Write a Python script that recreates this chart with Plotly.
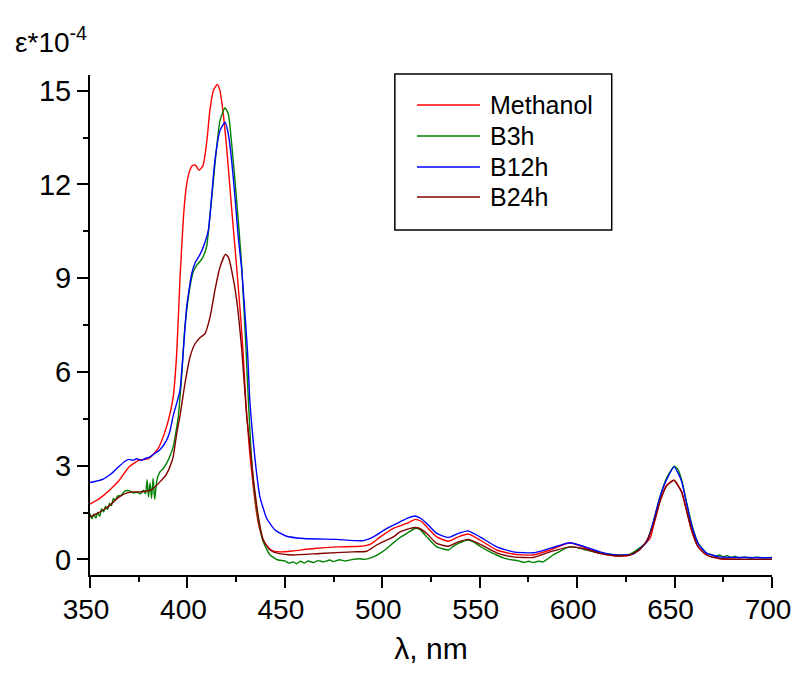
"""Absorption spectra: methanol vs. B-series samples."""

import plotly.graph_objects as go

FONT = "Liberation Sans, Arial, sans-serif"

METHANOL_WL = [
    350, 355, 360, 365, 370, 375, 380, 385, 388, 390, 392.7, 394.5, 396.2,
    398, 399.6, 401, 402.5, 404, 406, 408, 410, 411.5, 413.3, 415.3, 416.7,
    418.4, 420.1, 421.8, 423.5, 425.2, 427, 428.5, 430, 432, 433.8, 435.5,
    437.2, 439.8, 443, 447.5, 454, 465, 477, 489, 494, 499, 505.7, 512.5,
    517, 520, 522.8, 527.9, 533.9, 539, 544.1, 550.1, 558.7, 567, 577.5,
    586, 594.6, 598, 603, 611.7, 620.3, 627, 632.3, 637.4, 639.1, 642.5,
    645.9, 649.7, 653.6, 656.1, 658.7, 662.1, 666.4, 673, 685, 700,
]
METHANOL = [
    1.77, 1.95, 2.21, 2.53, 2.96, 3.17, 3.22, 3.55, 4.0, 4.4, 5.2, 6.6, 9.0,
    11.0, 12.0, 12.4, 12.6, 12.62, 12.45, 12.6, 13.4, 14.36, 15.0, 15.2, 15.0,
    14.25, 13.2, 11.9, 10.63, 9.4, 8.0, 6.7, 5.0, 3.4, 2.32, 1.48,
    0.94, 0.51, 0.30, 0.24, 0.27, 0.35, 0.40, 0.42, 0.49, 0.72, 0.99, 1.15,
    1.28, 1.22, 1.04, 0.72, 0.58, 0.72, 0.81, 0.62, 0.30, 0.17, 0.14,
    0.30, 0.51, 0.51, 0.40, 0.19, 0.11, 0.14, 0.35, 0.67, 1.05, 1.85,
    2.37, 2.53, 2.16, 1.58, 0.94, 0.40, 0.14, 0.03, 0.0, 0.0,
]

B3H_WL = [
    350, 351, 352, 353, 354, 355, 356, 357, 358, 359, 360, 361, 362, 363,
    364, 366, 368, 370, 372, 374, 376, 377.4, 378.5, 379.3, 380, 380.8,
    381.6, 382.4, 383.2, 384.3, 385.9, 387.5, 389.3, 391, 392.7, 393.6,
    395.3, 397, 398.7, 401.3, 403, 404.7, 407.3, 409.8, 411.5, 413.3, 415,
    416.7, 419.3, 421, 422.7, 424.4, 426.1, 427.9, 430, 431.2, 432.5, 433.8,
    436.4, 438.9, 442.4, 446.6, 450, 452, 454.3, 456, 458, 460, 462, 464.6,
    467, 470, 473, 475, 478, 481, 485, 488, 491, 495.4, 499, 502.3, 505.5,
    509.1, 513, 516.8, 519.4, 522.8, 527.9, 531, 533.9, 536, 539, 544.1,
    547, 550.1, 554, 558.7, 562, 565, 567.2, 570, 573, 575, 577.5, 580,
    582.6, 585, 587.7, 591, 594.6, 598, 601, 604.8, 611.7, 620.3, 627.1,
    635.7, 639.1, 642.5, 645.9, 649.8, 651.5, 653.6, 656.1, 658.7, 662.1,
    666.4, 669, 671, 673, 675, 677, 679, 681, 683, 686, 689, 692, 695, 700,
]
B3H = [
    1.47, 1.3, 1.45, 1.32, 1.5, 1.38, 1.62, 1.52, 1.7, 1.6, 1.8, 1.72, 1.95,
    1.88, 2.02, 2.05, 2.19, 2.2, 2.13, 2.15, 2.1, 2.21, 2.1, 2.55, 2.0, 2.45,
    1.95, 2.6, 1.92, 2.53, 2.8, 2.9, 3.07, 3.3, 3.6, 3.9,
    4.56, 5.84, 7.43, 8.71, 9.2, 9.41, 9.6, 9.99, 10.95, 12.12, 13.19,
    14.04, 14.45, 14.25, 13.3, 12.12, 10.84, 9.35, 6.8, 5.2, 3.6, 2.53,
    1.26, 0.56, 0.14, -0.02, -0.05, -0.12, -0.08, -0.14, -0.06, -0.12, -0.05,
    -0.1, -0.04, -0.08, -0.02, -0.07, -0.01, -0.05, 0.0, 0.02, 0.0, 0.08,
    0.2, 0.35, 0.52, 0.7, 0.85, 0.99, 0.95, 0.72, 0.40, 0.34, 0.30, 0.40,
    0.51, 0.62, 0.55, 0.42, 0.28, 0.14, 0.05, 0.0, -0.02, -0.05, -0.1, -0.06,
    -0.1, -0.06, -0.08, 0.02, 0.14, 0.25, 0.37, 0.40, 0.36, 0.30, 0.21, 0.14,
    0.17, 0.56, 1.2, 2.0, 2.6, 2.98, 2.9, 2.55, 1.85, 1.15, 0.52, 0.2, 0.15,
    0.1, 0.14, 0.08, 0.12, 0.06, 0.1, 0.05, 0.08, 0.04, 0.07, 0.05, 0.06,
]

B12H_WL = [
    350, 353, 356.8, 360, 362, 365, 368, 370, 372, 374, 376.5, 378, 380.8,
    383, 385.9, 389.3, 391, 392.7, 394.5, 396.2, 397.9, 399.6, 401, 402.2,
    404, 406.4, 408.1, 410.7, 412.4, 414.1, 416.7, 419.3, 421, 422.7, 424.4,
    426.1, 427.9, 430.8, 432.1, 434.7, 436, 437.2, 440.7, 445, 450.9, 459.5,
    476.6, 490.3, 495.4, 502.3, 509.1, 513, 516.8, 520, 522.8, 527.9, 533.9,
    539, 544.1, 550.1, 558.7, 567.2, 577.5, 586, 596.3, 603.1, 611.7, 620.3,
    628.8, 635.7, 639.1, 642.5, 645.9, 649.8, 653.6, 656.1, 658.7, 662.1,
    666.4, 673, 685, 700,
]
B12H = [
    2.46, 2.5, 2.57, 2.7, 2.8, 2.98, 3.14, 3.2, 3.17, 3.22, 3.17, 3.22, 3.28,
    3.38, 3.51, 3.81, 4.1, 4.6, 5.0, 5.41, 6.69, 8.07, 8.7, 9.14,
    9.5, 9.75, 9.99, 10.52, 11.59, 12.76, 13.72, 13.99, 13.61, 12.76, 11.59,
    10.31, 9.25, 6.69, 5.0, 3.2, 2.5, 2.0, 1.31, 0.94, 0.74, 0.67,
    0.64, 0.60, 0.72, 0.99, 1.2, 1.32, 1.39, 1.3, 1.15, 0.83, 0.70,
    0.83, 0.91, 0.72, 0.40, 0.24, 0.21, 0.35, 0.53, 0.42, 0.24, 0.14,
    0.17, 0.56, 1.2, 2.0, 2.55, 2.96, 2.5, 1.8, 1.1, 0.5,
    0.2, 0.08, 0.06, 0.05,
]

B24H_WL = [
    350, 353, 356.8, 360, 362, 365, 369, 372, 375.5, 378, 380.8, 383, 385.9,
    389, 391, 392.7, 394.5, 396.2, 398.7, 401.3, 403.9, 406.4, 409, 411.6,
    414.1, 416.7, 419.5, 421, 422.7, 425.3, 427.9, 430.4, 431.2, 433.8,
    436.4, 438.9, 442.4, 446.6, 454.3, 468, 485, 492, 497.1, 505.7, 509.1,
    513, 516.8, 519.5, 522.8, 527.9, 533.9, 539, 544.1, 550.1, 558.7, 567.2,
    577.5, 586, 596.3, 603.1, 611.7, 620.3, 627.1, 632, 635.7, 639.1, 642.5,
    645.9, 649.7, 653.6, 656.1, 658.7, 662.1, 666.4, 673, 685, 700,
]
B24H = [
    1.36, 1.45, 1.58, 1.72, 1.84, 2.0, 2.13, 2.16, 2.16, 2.18, 2.21, 2.3, 2.48,
    2.7, 2.96, 3.28, 4.03, 4.6, 5.62, 6.47, 6.9, 7.09, 7.22, 7.75,
    8.61, 9.35, 9.76, 9.67, 9.25, 8.29, 6.69, 4.6, 4.13, 2.6,
    1.36, 0.62, 0.30, 0.19, 0.14, 0.19, 0.24, 0.26, 0.46, 0.72, 0.88,
    0.97, 1.02, 0.98, 0.83, 0.51, 0.42, 0.56, 0.64, 0.49, 0.21, 0.08,
    0.06, 0.24, 0.40, 0.35, 0.19, 0.11, 0.14, 0.3, 0.6, 1.1, 1.85,
    2.35, 2.53, 2.16, 1.58, 0.94, 0.40, 0.14, 0.03, 0.0, 0.0,
]

SERIES = [
    ("Methanol", METHANOL_WL, METHANOL, "#ff0000"),
    ("B3h", B3H_WL, B3H, "#008000"),
    ("B12h", B12H_WL, B12H, "#0000ff"),
    ("B24h", B24H_WL, B24H, "#800000"),
]
X_TICKS = [350, 400, 450, 500, 550, 600, 650, 700]
Y_TICKS = [0, 3, 6, 9, 12, 15]

# hand-drawn legend (paper coords): tighter row spacing than plotly's legend
LEGEND_ROWS_Y = [0.94, 0.878, 0.816, 0.756]
LEGEND_LINE_X = (0.4795, 0.5718)
LEGEND_TEXT_X = 0.5836

fig = go.Figure()
for name, wl, values, color in SERIES:
    fig.add_trace(
        go.Scatter(
            x=wl,
            y=values,
            name=name,
            mode="lines",
            line={"color": color, "width": 1.4, "shape": "spline", "smoothing": 0.5},
            showlegend=False,
        )
    )

axis_style = {
    "showline": True,
    "linecolor": "black",
    "linewidth": 2,
    "ticks": "outside",
    "ticklen": 11,
    "tickwidth": 2,
    "tickcolor": "black",
    "showgrid": False,
    "zeroline": False,
    "automargin": False,
    "ticklabeloverflow": "allow",
    "tickfont": {"family": FONT, "size": 29, "color": "black"},
}
fig.update_xaxes(
    **axis_style,
    range=[350, 700],
    tickvals=X_TICKS,
    minor={"ticklen": 5, "tickwidth": 2, "tickcolor": "black", "dtick": 25, "ticks": "outside"},
    ticklabelstandoff=-3,
    # nudge labels left so "700" stays inside the page edge
    ticklabelshift=-4,
    title={"text": "λ, nm", "font": {"family": FONT, "size": 30, "color": "black"}, "standoff": 16},
)
fig.update_xaxes(tickfont={"size": 28})
fig.update_yaxes(
    **axis_style,
    range=[-0.5, 15.5],
    tickvals=Y_TICKS,
    minor={"ticklen": 5, "tickwidth": 2, "tickcolor": "black", "dtick": 1.5, "tick0": 0, "ticks": "outside"},
)
fig.add_annotation(
    text="ε*10<sup>-4</sup>",
    xref="paper",
    yref="paper",
    x=-0.113,
    y=1.07,
    xanchor="left",
    yanchor="middle",
    showarrow=False,
    font={"family": FONT, "size": 28, "color": "black"},
)
fig.add_shape(
    type="rect",
    xref="paper",
    yref="paper",
    x0=0.447,
    x1=0.765,
    y0=0.69,
    y1=1.002,
    line={"color": "black", "width": 1.5},
    fillcolor="white",
    layer="below",
)
for (name, _, _, color), row_y in zip(SERIES, LEGEND_ROWS_Y):
    fig.add_shape(
        type="line",
        xref="paper",
        yref="paper",
        x0=LEGEND_LINE_X[0],
        x1=LEGEND_LINE_X[1],
        y0=row_y,
        y1=row_y,
        line={"color": color, "width": 1.4},
    )
    fig.add_annotation(
        text=name,
        xref="paper",
        yref="paper",
        x=LEGEND_TEXT_X,
        y=row_y,
        xanchor="left",
        yanchor="middle",
        showarrow=False,
        font={"family": FONT, "size": 25, "color": "black"},
    )

fig.update_layout(
    width=783,
    height=657,
    margin={"l": 82, "r": 19, "t": 67, "b": 90},
    plot_bgcolor="white",
    paper_bgcolor="white",
)
fig.write_html("out.html")
